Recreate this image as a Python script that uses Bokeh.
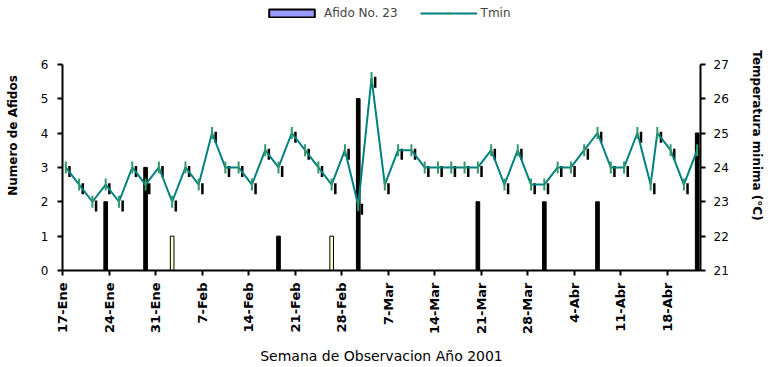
import numpy as np
import pandas as pd
from bokeh.plotting import figure
from bokeh.models import Range1d, LinearAxis, FixedTicker, Legend, LegendItem, ColumnDataSource
from bokeh.transform import dodge
from bokeh.embed import file_html
from bokeh.resources import INLINE

START = "2001-01-17"
N_DAYS = 96

tick_dates = ["2001-01-17", "2001-01-24", "2001-01-31", "2001-02-07", "2001-02-14",
              "2001-02-21", "2001-02-28", "2001-03-07", "2001-03-14", "2001-03-21",
              "2001-03-28", "2001-04-04", "2001-04-11", "2001-04-18"]
tick_labels = ["17-Ene", "24-Ene", "31-Ene", "7-Feb", "14-Feb", "21-Feb", "28-Feb",
               "7-Mar", "14-Mar", "21-Mar", "28-Mar", "4-Abr", "11-Abr", "18-Abr"]

tmin_dates = ["2001-01-17", "2001-01-19", "2001-01-21", "2001-01-23", "2001-01-25",
              "2001-01-27", "2001-01-29", "2001-01-31",
              "2001-02-02", "2001-02-04", "2001-02-06", "2001-02-08", "2001-02-10",
              "2001-02-12", "2001-02-14", "2001-02-16", "2001-02-18", "2001-02-20",
              "2001-02-22", "2001-02-24", "2001-02-26", "2001-02-28",
              "2001-03-02", "2001-03-04", "2001-03-06", "2001-03-08", "2001-03-10",
              "2001-03-12", "2001-03-14", "2001-03-16", "2001-03-18", "2001-03-20",
              "2001-03-22", "2001-03-24", "2001-03-26", "2001-03-28", "2001-03-30",
              "2001-04-01", "2001-04-03", "2001-04-05", "2001-04-07", "2001-04-09",
              "2001-04-11", "2001-04-13", "2001-04-15", "2001-04-16", "2001-04-18",
              "2001-04-20", "2001-04-22"]
tmin = [24, 23.5, 23, 23.5, 23, 24, 23.5, 24,
        23, 24, 23.5, 25, 24, 24, 23.5, 24.5, 24, 25, 24.5, 24, 23.5, 24.5,
        22.9, 26.6, 23.5, 24.5, 24.5, 24, 24, 24, 24, 24, 24.5, 23.5, 24.5, 23.5, 23.5,
        24, 24, 24.5, 25, 24, 24, 25, 23.5, 25, 24.5, 23.5, 24.5]

afido_dates = ["2001-01-23", "2001-01-29", "2001-02-02", "2001-02-18", "2001-02-26",
               "2001-03-02", "2001-03-20", "2001-03-30", "2001-04-07", "2001-04-22"]
afidos = [2, 3, 1, 1, 1, 5, 2, 2, 2, 4]
afido_fill = ["black", "black", "#ffffcc", "black", "#ffffcc",
              "black", "black", "black", "black", "black"]

left_ticks = [0, 1, 2, 3, 4, 5, 6]
right_ticks = [21, 22, 23, 24, 25, 26, 27]

start = pd.Timestamp(START)
def day_pos(dates, centre=0.5):
    return [(pd.Timestamp(d) - start).days + centre for d in dates]

tick_pos = [int(v) for v in day_pos(tick_dates, 0)]

FONT = "DejaVu Sans"
W, H = 771, 367
FRAME_BOTTOM = 96          # px below plot area
AXIS_PX = 207              # px spanned by 0..6 / 21..27
frame_h = H - FRAME_BOTTOM
span = 6 * frame_h / AXIS_PX   # data span of full frame (room above axes for legend)

p = figure(width=W, height=H, output_backend="svg", toolbar_location=None,
           x_range=Range1d(0, N_DAYS), y_range=Range1d(0, span),
           min_border_left=62, min_border_right=71, min_border_top=0,
           min_border_bottom=FRAME_BOTTOM)
p.extra_y_ranges = {"t": Range1d(21, 21 + span)}
p.xgrid.visible = False
p.ygrid.visible = False
p.outline_line_color = None
p.background_fill_color = "white"
p.border_fill_color = "white"

def style_axis(ax):
    ax.axis_line_width = 2
    ax.axis_line_color = "black"
    ax.major_tick_line_width = 2
    ax.major_tick_line_color = "black"
    ax.major_tick_out = 5
    ax.major_tick_in = 0
    ax.minor_tick_line_color = None
    ax.major_label_text_font = FONT
    ax.major_label_text_color = "black"
    ax.axis_label_text_font = FONT
    ax.axis_label_text_color = "black"

# bottom axis
xa = p.xaxis[0]
style_axis(xa)
xa.ticker = FixedTicker(ticks=tick_pos)
xa.major_label_overrides = {t: lab for t, lab in zip(tick_pos, tick_labels)}
xa.major_label_orientation = np.pi / 2
xa.major_label_text_font_style = "bold"
xa.major_label_text_font_size = "13px"
xa.major_label_standoff = 7
xa.axis_label = "Semana de Observacion Año 2001"
xa.axis_label_text_font_style = "normal"
xa.axis_label_text_font_size = "14px"
xa.axis_label_standoff = 11

# left axis
ya = p.yaxis[0]
style_axis(ya)
ya.ticker = FixedTicker(ticks=left_ticks)
ya.bounds = (left_ticks[0], left_ticks[-1])
ya.major_label_text_font_size = "12px"
ya.major_label_standoff = 9
ya.axis_label = "Numero de Afidos"
ya.axis_label_text_font_style = "bold"
ya.axis_label_text_font_size = "12px"
ya.axis_label_standoff = 18

# right axis
ra = LinearAxis(y_range_name="t")
style_axis(ra)
ra.ticker = FixedTicker(ticks=right_ticks)
ra.bounds = (right_ticks[0], right_ticks[-1])
ra.major_label_text_font_size = "12px"
ra.major_label_standoff = 8
ra.axis_label = "Temperatura minima (°C)"
ra.axis_label_text_font_style = "bold"
ra.axis_label_text_font_size = "12px"
ra.axis_label_standoff = 18
p.add_layout(ra, "right")

bar_src = ColumnDataSource(dict(x=day_pos(afido_dates), afidos=afidos, fill=afido_fill))
t_src = ColumnDataSource(dict(x=day_pos(tmin_dates), tmin=tmin))

p.vbar(x="x", top="afidos", width=0.55, fill_color="fill", line_color="black",
       line_width=1, source=bar_src)

# dark offset tick behind each Tmin marker
p.scatter(x=dodge("x", 0.55), y=dodge("tmin", -0.12), marker="dash", angle=np.pi / 2,
          size=11, line_color="black", line_width=2.5, source=t_src, y_range_name="t")

line_r = p.line("x", "tmin", line_color="#008080", line_width=2, source=t_src,
                y_range_name="t")
mark_r = p.scatter("x", "tmin", marker="dash", angle=np.pi / 2, size=12,
                   line_color="#339966", line_width=2, source=t_src, y_range_name="t")

# legend-only swatch for the series colour (zero-height, outside the visible x range)
legend_bar = p.vbar(x=[-5], top=[0], bottom=[0], width=0.5, fill_color="#9999ff",
                    line_color="black", line_width=2)

legend = Legend(items=[LegendItem(label="Afido No. 23", renderers=[legend_bar]),
                       LegendItem(label="Tmin", renderers=[line_r, mark_r])],
                orientation="horizontal", location=(201, frame_h - 21),
                glyph_width=57, glyph_height=10, label_height=12,
                label_text_font=FONT, label_text_font_size="12px",
                label_standoff=4, spacing=22, padding=0, margin=0,
                background_fill_alpha=0, border_line_color=None)
p.add_layout(legend)

open("out.html", "w").write(file_html(p, INLINE))
